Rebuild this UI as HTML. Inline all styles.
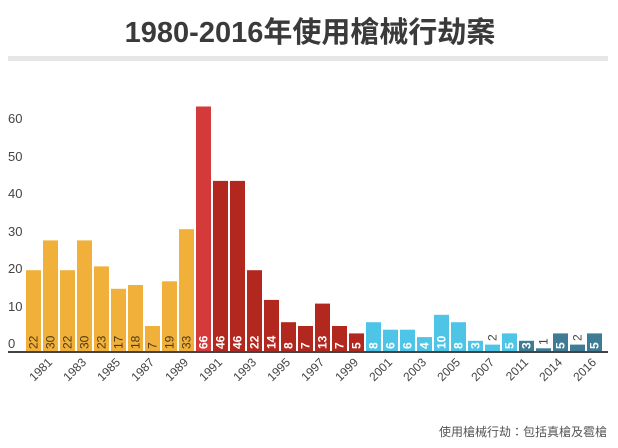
<!DOCTYPE html>
<html><head><meta charset="utf-8"><style>
html,body{margin:0;padding:0;background:#fff;}
svg{display:block;font-family:"Liberation Sans","Noto Sans CJK TC",sans-serif;}
</style></head><body>
<svg width="618" height="448" viewBox="0 0 618 448" xmlns="http://www.w3.org/2000/svg">
<text x="310" y="42" text-anchor="middle" font-size="29" font-weight="bold" fill="#3a3a3a">1980-2016年使用槍械行劫案</text>
<rect x="8" y="56" width="600" height="5" fill="#e6e6e6"/>
<g font-size="13" fill="#444">
<text x="8" y="123">60</text><text x="8" y="161">50</text><text x="8" y="198">40</text>
<text x="8" y="236">30</text><text x="8" y="273">20</text><text x="8" y="311">10</text><text x="8" y="348">0</text>
</g>
<g fill="#f0b03a">
<rect x="26" y="270.2" width="15" height="81.8"/>
<rect x="43" y="240.4" width="15" height="111.6"/>
<rect x="60" y="270.2" width="15" height="81.8"/>
<rect x="77" y="240.4" width="15" height="111.6"/>
<rect x="94" y="266.4" width="15" height="85.6"/>
<rect x="111" y="288.8" width="15" height="63.2"/>
<rect x="128" y="285" width="15" height="67"/>
<rect x="145" y="326" width="15" height="26"/>
<rect x="162" y="281.3" width="15" height="70.7"/>
<rect x="179" y="229.2" width="15" height="122.8"/>
</g>
<rect x="196" y="106.5" width="15" height="245.5" fill="#d43a3a"/>
<g fill="#b2281f">
<rect x="213" y="180.9" width="15" height="171.1"/>
<rect x="230" y="180.9" width="15" height="171.1"/>
<rect x="247" y="270.2" width="15" height="81.8"/>
<rect x="264" y="299.9" width="15" height="52.1"/>
<rect x="281" y="322.2" width="15" height="29.8"/>
<rect x="298" y="326" width="15" height="26"/>
<rect x="315" y="303.6" width="15" height="48.4"/>
<rect x="332" y="326" width="15" height="26"/>
<rect x="349" y="333.4" width="15" height="18.6"/>
</g>
<g fill="#4ec5e6">
<rect x="366" y="322.2" width="15" height="29.8"/>
<rect x="383" y="329.7" width="15" height="22.3"/>
<rect x="400" y="329.7" width="15" height="22.3"/>
<rect x="417" y="337.1" width="15" height="14.9"/>
<rect x="434" y="314.8" width="15" height="37.2"/>
<rect x="451" y="322.2" width="15" height="29.8"/>
<rect x="468" y="340.8" width="15" height="11.2"/>
<rect x="485" y="344.6" width="15" height="7.4"/>
<rect x="502" y="333.4" width="15" height="18.6"/>
</g>
<g fill="#3e7b95">
<rect x="519" y="340.8" width="15" height="11.2"/>
<rect x="536" y="348.3" width="15" height="3.7"/>
<rect x="553" y="333.4" width="15" height="18.6"/>
<rect x="570" y="344.6" width="15" height="7.4"/>
<rect x="587" y="333.4" width="15" height="18.6"/>
</g>
<g font-size="12" fill="#4a3a1a">
<text transform="translate(37.5,349) rotate(-90)">22</text>
<text transform="translate(54.5,349) rotate(-90)">30</text>
<text transform="translate(71.5,349) rotate(-90)">22</text>
<text transform="translate(88.5,349) rotate(-90)">30</text>
<text transform="translate(105.5,349) rotate(-90)">23</text>
<text transform="translate(122.5,349) rotate(-90)">17</text>
<text transform="translate(139.5,349) rotate(-90)">18</text>
<text transform="translate(156.5,349) rotate(-90)">7</text>
<text transform="translate(173.5,349) rotate(-90)">19</text>
<text transform="translate(190.5,349) rotate(-90)">33</text>
</g>
<g font-size="12" font-weight="bold" fill="#fff">
<text transform="translate(207.5,349) rotate(-90)">66</text>
<text transform="translate(224.5,349) rotate(-90)">46</text>
<text transform="translate(241.5,349) rotate(-90)">46</text>
<text transform="translate(258.5,349) rotate(-90)">22</text>
<text transform="translate(275.5,349) rotate(-90)">14</text>
<text transform="translate(292.5,349) rotate(-90)">8</text>
<text transform="translate(309.5,349) rotate(-90)">7</text>
<text transform="translate(326.5,349) rotate(-90)">13</text>
<text transform="translate(343.5,349) rotate(-90)">7</text>
<text transform="translate(360.5,349) rotate(-90)">5</text>
<text transform="translate(377.5,349) rotate(-90)">8</text>
<text transform="translate(394.5,349) rotate(-90)">6</text>
<text transform="translate(411.5,349) rotate(-90)">6</text>
<text transform="translate(428.5,349) rotate(-90)">4</text>
<text transform="translate(445.5,349) rotate(-90)">10</text>
<text transform="translate(462.5,349) rotate(-90)">8</text>
<text transform="translate(479.5,349) rotate(-90)">3</text>
<text transform="translate(513.5,349) rotate(-90)">5</text>
<text transform="translate(530.5,349) rotate(-90)">3</text>
<text transform="translate(564.5,349) rotate(-90)">5</text>
<text transform="translate(598.5,349) rotate(-90)">5</text>
</g>
<g font-size="12" fill="#444">
<text transform="translate(496.5,341) rotate(-90)">2</text>
<text transform="translate(547.5,345) rotate(-90)">1</text>
<text transform="translate(581.5,341) rotate(-90)">2</text>
</g>
<rect x="8" y="351" width="600" height="2" fill="#444"/>
<g font-size="12" fill="#444" text-anchor="end">
<text transform="translate(53,363) rotate(-45)">1981</text>
<text transform="translate(87,363) rotate(-45)">1983</text>
<text transform="translate(121,363) rotate(-45)">1985</text>
<text transform="translate(155,363) rotate(-45)">1987</text>
<text transform="translate(189,363) rotate(-45)">1989</text>
<text transform="translate(223,363) rotate(-45)">1991</text>
<text transform="translate(257,363) rotate(-45)">1993</text>
<text transform="translate(291,363) rotate(-45)">1995</text>
<text transform="translate(325,363) rotate(-45)">1997</text>
<text transform="translate(359,363) rotate(-45)">1999</text>
<text transform="translate(393,363) rotate(-45)">2001</text>
<text transform="translate(427,363) rotate(-45)">2003</text>
<text transform="translate(461,363) rotate(-45)">2005</text>
<text transform="translate(495,363) rotate(-45)">2007</text>
<text transform="translate(529,363) rotate(-45)">2011</text>
<text transform="translate(563,363) rotate(-45)">2014</text>
<text transform="translate(597,363) rotate(-45)">2016</text>
</g>
<text x="607" y="436" text-anchor="end" font-size="12" fill="#555">使用槍械行劫：包括真槍及雹槍</text>
</svg>
</body></html>
